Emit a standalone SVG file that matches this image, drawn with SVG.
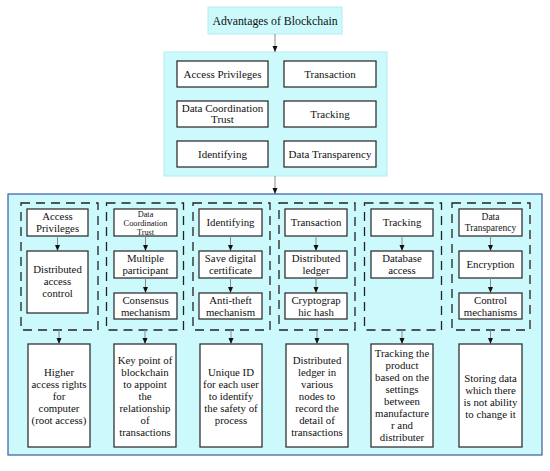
<svg xmlns="http://www.w3.org/2000/svg" width="550" height="471" viewBox="0 0 550 471">
<defs>
<style>
text{font-family:'Liberation Serif','DejaVu Serif',serif;fill:#111;text-anchor:middle}
.t11{font-size:11px}
.t10{font-size:10.8px}
.t12{font-size:11.8px}
.box{fill:#fff;stroke:#333;stroke-width:1.3}
.cyan{fill:#ccfafc}
.dash{fill:none;stroke:#222;stroke-width:1.3;stroke-dasharray:9,6}
.conn{stroke:#8a8a8a;stroke-width:1;fill:none;marker-end:url(#ah)}
</style>
<marker id="ah" viewBox="0 0 6 6" refX="6" refY="3" markerWidth="6" markerHeight="6" markerUnits="userSpaceOnUse" orient="auto">
<path d="M0,0.5 L6,3 L0,5.5 Z" fill="#111"/>
</marker>
</defs>
<rect width="550" height="471" fill="#fff"/>
<g font-family="Liberation Serif, DejaVu Serif, serif">
<g id="title">
<rect x="208" y="7" width="134" height="27" class="cyan" stroke="#b5ecef" stroke-width="1"/>
<text x="275" y="24.5" class="t12">Advantages of Blockchain</text>
</g>

<g id="advantages-panel">
<rect x="164" y="52" width="223" height="124" class="cyan" stroke="#b5ecef" stroke-width="1"/>
<rect x="177" y="61" width="91" height="26" class="box"/>
<text x="222.5" y="77.5" class="t11">Access Privileges</text>
<rect x="284" y="61" width="92" height="26" class="box"/>
<text x="330" y="77.5" class="t11">Transaction</text>
<rect x="177" y="101" width="91" height="26" class="box"/>
<text x="222.5" y="111.5" class="t11">Data Coordination</text>
<text x="222.5" y="123" class="t11">Trust</text>
<rect x="284" y="101" width="92" height="26" class="box"/>
<text x="330" y="117.5" class="t11">Tracking</text>
<rect x="177" y="141" width="91" height="26" class="box"/>
<text x="222.5" y="157.5" class="t11">Identifying</text>
<rect x="284" y="141" width="92" height="26" class="box"/>
<text x="330" y="157.5" class="t11">Data Transparency</text>
</g>

<g id="detail-panel">
<rect x="8" y="194" width="534" height="261" class="cyan" stroke="#3b5a9a" stroke-width="1.2"/>
<rect x="21" y="203" width="77" height="127" class="dash"/>
<rect x="106.5" y="203" width="77" height="127" class="dash"/>
<rect x="193" y="203" width="77" height="127" class="dash"/>
<rect x="279" y="203" width="76" height="127" class="dash"/>
<rect x="364.5" y="203" width="77" height="127" class="dash"/>
<rect x="452" y="203" width="78" height="127" class="dash"/>
</g>

<g id="col1">
<rect x="27" y="209" width="61" height="27" class="box"/>
<text x="57.5" y="220" class="t10">Access</text>
<text x="57.5" y="232" class="t10">Privileges</text>
<rect x="27" y="251" width="61" height="62" class="box"/>
<text x="57.5" y="273" class="t10">Distributed</text>
<text x="57.5" y="285" class="t10">access</text>
<text x="57.5" y="297" class="t10">control</text>
<rect x="28" y="344" width="62" height="103" class="box"/>
<text x="59" y="376" class="t10">Higher</text>
<text x="59" y="388" class="t10">access rights</text>
<text x="59" y="400" class="t10">for</text>
<text x="59" y="412" class="t10">computer</text>
<text x="59" y="424" class="t10">(root access)</text>
</g>

<g id="col2">
<rect x="114" y="209" width="63" height="27" class="box"/>
<text x="145.5" y="216.5" style="font-size:8.3px">Data</text>
<text x="145.5" y="225.5" style="font-size:8.3px">Coordination</text>
<text x="145.5" y="234.5" style="font-size:8.3px">Trust</text>
<rect x="114" y="251" width="63" height="27" class="box"/>
<text x="145.5" y="262" class="t10">Multiple</text>
<text x="145.5" y="274" class="t10">participant</text>
<rect x="114" y="293" width="63" height="26" class="box"/>
<text x="145.5" y="304" class="t10">Consensus</text>
<text x="145.5" y="316" class="t10">mechanism</text>
<rect x="114" y="344" width="62" height="103" class="box"/>
<text x="145" y="364" class="t10">Key point of</text>
<text x="145" y="376" class="t10">blockchain</text>
<text x="145" y="388" class="t10">to appoint</text>
<text x="145" y="400" class="t10">the</text>
<text x="145" y="412" class="t10">relationship</text>
<text x="145" y="424" class="t10">of</text>
<text x="145" y="436" class="t10">transactions</text>
</g>

<g id="col3">
<rect x="199" y="209" width="63" height="27" class="box"/>
<text x="230.5" y="226" class="t10">Identifying</text>
<rect x="199" y="251" width="63" height="27" class="box"/>
<text x="230.5" y="262" class="t10">Save digital</text>
<text x="230.5" y="274" class="t10">certificate</text>
<rect x="199" y="293" width="63" height="26" class="box"/>
<text x="230.5" y="304" class="t10">Anti-theft</text>
<text x="230.5" y="316" class="t10">mechanism</text>
<rect x="200" y="344" width="62" height="103" class="box"/>
<text x="231" y="376" class="t10">Unique ID</text>
<text x="231" y="388" class="t10">for each user</text>
<text x="231" y="400" class="t10">to identify</text>
<text x="231" y="412" class="t10">the safety of</text>
<text x="231" y="424" class="t10">process</text>
</g>

<g id="col4">
<rect x="285" y="209" width="62" height="27" class="box"/>
<text x="316" y="226" class="t10">Transaction</text>
<rect x="285" y="251" width="62" height="27" class="box"/>
<text x="316" y="262" class="t10">Distributed</text>
<text x="316" y="274" class="t10">ledger</text>
<rect x="285" y="293" width="62" height="26" class="box"/>
<text x="316" y="304" class="t10">Cryptograp</text>
<text x="316" y="316" class="t10">hic hash</text>
<rect x="286" y="344" width="62" height="103" class="box"/>
<text x="317" y="364" class="t10">Distributed</text>
<text x="317" y="376" class="t10">ledger in</text>
<text x="317" y="388" class="t10">various</text>
<text x="317" y="400" class="t10">nodes to</text>
<text x="317" y="412" class="t10">record the</text>
<text x="317" y="424" class="t10">detail of</text>
<text x="317" y="436" class="t10">transactions</text>
</g>

<g id="col5">
<rect x="371" y="209" width="62" height="27" class="box"/>
<text x="402" y="226" class="t10">Tracking</text>
<rect x="371" y="251" width="62" height="27" class="box"/>
<text x="402" y="262" class="t10">Database</text>
<text x="402" y="274" class="t10">access</text>
<rect x="371" y="344" width="62" height="103" class="box"/>
<text x="402" y="357" class="t10">Tracking the</text>
<text x="402" y="369" class="t10">product</text>
<text x="402" y="381" class="t10">based on the</text>
<text x="402" y="393" class="t10">settings</text>
<text x="402" y="405" class="t10">between</text>
<text x="402" y="417" class="t10">manufacture</text>
<text x="402" y="429" class="t10">r and</text>
<text x="402" y="441" class="t10">distributer</text>
</g>

<g id="col6">
<rect x="459" y="209" width="63" height="27" class="box"/>
<text x="490.5" y="219.5" style="font-size:9.5px">Data</text>
<text x="490.5" y="231" style="font-size:9.5px">Transparency</text>
<rect x="459" y="251" width="63" height="27" class="box"/>
<text x="490.5" y="268" class="t10">Encryption</text>
<rect x="459" y="293" width="63" height="26" class="box"/>
<text x="490.5" y="304" class="t10">Control</text>
<text x="490.5" y="316" class="t10">mechanisms</text>
<rect x="459" y="344" width="63" height="103" class="box"/>
<text x="490.5" y="382" class="t10">Storing data</text>
<text x="490.5" y="394" class="t10">which there</text>
<text x="490.5" y="406" class="t10">is not ability</text>
<text x="490.5" y="418" class="t10">to change it</text>
</g>
</g>
<g id="connectors">
<path class="conn" d="M275,34 V52"/>
<path class="conn" d="M275,176 V194"/>
<path class="conn" d="M57.5,236 V251"/>
<path class="conn" d="M145.5,236 V251"/>
<path class="conn" d="M145.5,278 V293"/>
<path class="conn" d="M230.5,236 V251"/>
<path class="conn" d="M230.5,278 V293"/>
<path class="conn" d="M316,236 V251"/>
<path class="conn" d="M316,278 V293"/>
<path class="conn" d="M402,236 V251"/>
<path class="conn" d="M490.5,236 V251"/>
<path class="conn" d="M490.5,278 V293"/>
<path class="conn" d="M59,330 V344"/>
<path class="conn" d="M145,330 V344"/>
<path class="conn" d="M231,330 V344"/>
<path class="conn" d="M317,330 V344"/>
<path class="conn" d="M402,330 V344"/>
<path class="conn" d="M490.5,330 V344"/>
</g>
</svg>
